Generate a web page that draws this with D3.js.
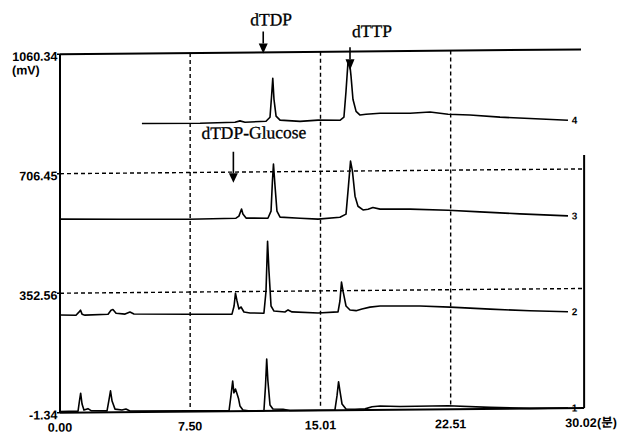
<!DOCTYPE html>
<html lang="ko">
<head>
  <meta charset="UTF-8">
  <title>HPLC chromatogram – dTDP / dTTP</title>
  <script src="https://d3js.org/d3.v7.min.js"></script>
  <style>
    body {
      margin: 0;
      background: #fff;
    }
    .tick-label {
      font: bold 12.5px "Liberation Sans", Arial, "Noto Sans CJK KR", sans-serif;
      fill: #000;
    }
    .trace-label {
      font: bold 10px "Liberation Sans", Arial, sans-serif;
      fill: #000;
    }
    .ann {
      font: 17.5px "Liberation Serif", "Times New Roman", serif;
      fill: #000;
      stroke: #000;
      stroke-width: 0.3;
    }
    .trace {
      fill: none;
      stroke: #000;
      stroke-width: 1.6;
      stroke-linejoin: round;
    }
    .grid {
      stroke: #000;
      stroke-width: 1.4;
      stroke-dasharray: 4,3;
    }
    .frame {
      stroke: #000;
      stroke-width: 2;
    }
  </style>
</head>
<body>
  <svg id="chart" width="618" height="437"></svg>
  <script>
    // Axis ticks
    const xTicks = [0, 7.50, 15.01, 22.51, 30.02];
    const xTickLabels = ["0.00", "7.50", "15.01", "22.51", "30.02"];
    const xUnit = "(분)";
    const yTicks = [-1.34, 352.56, 706.45, 1060.34];
    const yTickLabels = ["-1.34", "352.56", "706.45", "1060.34"];
    const yUnit = "(mV)";

    // Chromatograms (time in min, signal in mV), stacked with offsets
    const trace1Time = [0, 1.04, 1.12, 1.19, 1.27, 1.38, 1.61, 1.79, 2.71, 2.82, 2.91, 3.00, 3.17, 3.57, 3.80, 4.03,
      7.49, 9.74, 9.85, 9.95, 10.02, 10.11, 10.20, 10.29, 10.37, 10.54, 10.95, 11.75, 11.84, 11.91, 11.98, 12.10,
      12.27, 12.85, 13.25, 14.98, 15.84, 15.96, 16.05, 16.13, 16.25, 16.48, 17.00, 17.58, 17.98, 18.44, 19.59,
      22.36, 24.78, 27.08, 29.27];
    const trace1Mv = [2, 3, 33, 56, 24, 6, 10, 4, 3, 35, 62, 32, 8, 5, 8, 2,
      1, 0, 44, 88, 53, 64, 50, 35, 14, 2, -1, -1, 72, 152, 87, 16,
      4, 3, -1, -1, -1, 41, 83, 56, 17, 2, 1, 2, 8, 10, 8,
      9, 3, -1, -1];

    const trace2Time = [0, 0.92, 1.09, 1.18, 1.27, 1.44, 2.77, 2.94, 3.05, 3.23, 3.75, 4.03, 4.26, 7.43, 9.91,
      10.03, 10.11, 10.20, 10.31, 10.43, 10.60, 10.95, 11.75, 11.87, 11.96, 12.04, 12.16, 12.33, 12.96, 13.14,
      13.37, 14.87, 16.02, 16.13, 16.22, 16.31, 16.48, 16.71, 17.06, 17.40, 17.86, 18.44, 20.74, 22.47, 24.78,
      27.08, 29.27];
    const trace2Mv = [288, 287, 296, 302, 290, 287, 289, 301, 303, 292, 289, 295, 289, 287, 286,
      310, 348, 325, 301, 307, 292, 289, 288, 353, 501, 413, 309, 294, 291, 297,
      291, 287, 290, 322, 378, 351, 307, 295, 293, 298, 303, 306, 305, 301, 294,
      288, 284];

    const trace3Time = [0, 3.46, 7.43, 10.14, 10.31, 10.46, 10.54, 10.72, 11.98, 12.16, 12.24, 12.30, 12.39, 12.50,
      12.68, 13.83, 14.87, 16.13, 16.48, 16.62, 16.74, 16.85, 17.00, 17.17, 17.46, 17.75, 18.03, 18.44, 20.17,
      22.36, 24.20, 26.50, 29.27];
    const trace3Mv = [572, 570, 568, 570, 576, 597, 582, 570, 569, 590, 679, 729, 664, 590,
      572, 568, 565, 570, 579, 662, 736, 706, 632, 602, 591, 593, 598, 593, 592,
      588, 582, 575, 568];

    const trace4Time = [4.72, 8.07, 10.08, 10.37, 10.66, 11.87, 12.10, 12.19, 12.26, 12.33, 12.45, 12.68, 13.83,
      14.87, 16.13, 16.36, 16.48, 16.59, 16.68, 16.77, 16.88, 17.06, 17.29, 17.63, 18.44, 20.17, 21.32, 22.36,
      23.62, 25.35, 27.08, 29.27];
    const trace4Mv = [853, 852, 854, 858, 854, 856, 868, 930, 983, 921, 871, 859, 855,
      858, 857, 866, 943, 1026, 1031, 987, 919, 883, 872, 874, 877, 876, 879, 872,
      869, 862, 857, 851];

    const traceNames = ["1", "2", "3", "4"];

    // Peak annotations: arrow tip at (time, mV)
    const annLabels = ["dTDP", "dTTP", "dTDP-Glucose"];
    const annTime = [11.71, 16.71, 9.99];
    const annMv = [1057, 1005, 675];

    // Layout
    const width = 618;
    const height = 437;
    const xMax = 30.02;
    const xFrameRight = 30.2;   // right border sits just past the last tick
    const yFrameRight = 748;    // right border only covers the lower panels

    const svg = d3.select("#chart");
    // the scanned figure is slightly tilted: right side higher than left
    const root = svg.append("g")
      .attr("transform", "translate(320,0) skewY(-0.52) translate(-320,0)");

    const x = d3.scaleLinear().domain([0, xMax]).range([60, 581]);
    const y = d3.scaleLinear().domain([yTicks[0], yTicks[yTicks.length - 1]]).range([410.4, 51.8]);

    // Dashed grid
    root.append("g")
      .selectAll("line")
      .data(xTicks.slice(1, -1))
      .join("line")
        .attr("class", "grid")
        .attr("x1", d => x(d)).attr("x2", d => x(d))
        .attr("y1", y(yTicks[3])).attr("y2", y(yTicks[0]) - 2);

    root.append("g")
      .selectAll("line")
      .data(yTicks.slice(1, -1))
      .join("line")
        .attr("class", "grid")
        .attr("x1", x(0)).attr("x2", x(xFrameRight))
        .attr("y1", d => y(d)).attr("y2", d => y(d));

    // Frame
    const frame = root.append("g").attr("class", "frame");
    frame.append("line")
      .attr("x1", x(0)).attr("x2", x(xMax))
      .attr("y1", y(yTicks[3])).attr("y2", y(yTicks[3]));
    frame.append("line")
      .attr("x1", x(0)).attr("x2", x(0))
      .attr("y1", y(yTicks[3])).attr("y2", y(yTicks[0]));
    frame.append("line")
      .attr("x1", x(0)).attr("x2", x(xFrameRight))
      .attr("y1", y(yTicks[0])).attr("y2", y(yTicks[0]));
    frame.append("line")
      .attr("x1", x(xFrameRight)).attr("x2", x(xFrameRight))
      .attr("y1", y(yFrameRight)).attr("y2", y(yTicks[0]));

    // Y ticks and labels
    root.append("g")
      .selectAll("line")
      .data(yTicks)
      .join("line")
        .attr("stroke", "#000")
        .attr("stroke-width", 1.5)
        .attr("x1", x(0) - 3).attr("x2", x(0))
        .attr("y1", d => y(d)).attr("y2", d => y(d));

    root.append("g")
      .selectAll("text")
      .data(yTicks)
      .join("text")
        .attr("class", "tick-label")
        .attr("text-anchor", "end")
        .attr("x", x(0) - 2.5)
        .attr("y", d => y(d) + 6.5)
        .text((d, i) => yTickLabels[i]);

    root.append("text")
      .attr("class", "tick-label")
      .attr("x", 12)
      .attr("y", y(yTicks[3]) + 20)
      .text(yUnit);

    // X labels
    root.append("g")
      .selectAll("text")
      .data(xTicks)
      .join("text")
        .attr("class", "tick-label")
        .attr("text-anchor", "middle")
        .attr("x", d => x(d))
        .attr("y", y(yTicks[0]) + 19)
        .text((d, i) => xTickLabels[i]);

    root.append("text")
      .attr("class", "tick-label")
      .attr("x", x(xMax) + 16)
      .attr("y", y(yTicks[0]) + 19)
      .text(xUnit);

    // Traces
    const traces = [
      { name: traceNames[0], t: trace1Time, v: trace1Mv },
      { name: traceNames[1], t: trace2Time, v: trace2Mv },
      { name: traceNames[2], t: trace3Time, v: trace3Mv },
      { name: traceNames[3], t: trace4Time, v: trace4Mv }
    ];

    const line = d3.line()
      .x(d => x(d[0]))
      .y(d => y(d[1]));

    root.append("g")
      .selectAll("path")
      .data(traces)
      .join("path")
        .attr("class", "trace")
        .attr("d", d => line(d.t.map((t, i) => [t, d.v[i]])));

    root.append("g")
      .selectAll("text")
      .data(traces)
      .join("text")
        .attr("class", "trace-label")
        .attr("text-anchor", "middle")
        .attr("dy", "0.36em")
        .attr("x", d => x(d.t[d.t.length - 1]) + 6.5)
        .attr("y", d => y(d.v[d.v.length - 1]))
        .text(d => d.name);

    // Arrows + peak names
    const arrowLen = [22, 23, 31];
    const headLen = [10, 11, 9.5];
    const textDx = [-13, 2, -32];
    const textDy = [-28, -33, -44];

    const ann = root.append("g")
      .selectAll("g")
      .data(annLabels)
      .join("g")
        .attr("transform", (d, i) => `translate(${x(annTime[i])},${y(annMv[i])})`);

    ann.append("line")
      .attr("stroke", "#000")
      .attr("stroke-width", 1.6)
      .attr("x1", 0).attr("x2", 0)
      .attr("y1", (d, i) => -arrowLen[i])
      .attr("y2", (d, i) => -headLen[i]);

    ann.append("path")
      .attr("fill", "#000")
      .attr("d", (d, i) => `M-4.5,${-headLen[i]}L4.5,${-headLen[i]}L0,0Z`);

    ann.append("text")
      .attr("class", "ann")
      .attr("x", (d, i) => textDx[i])
      .attr("y", (d, i) => textDy[i])
      .text(d => d);
  </script>
</body>
</html>
